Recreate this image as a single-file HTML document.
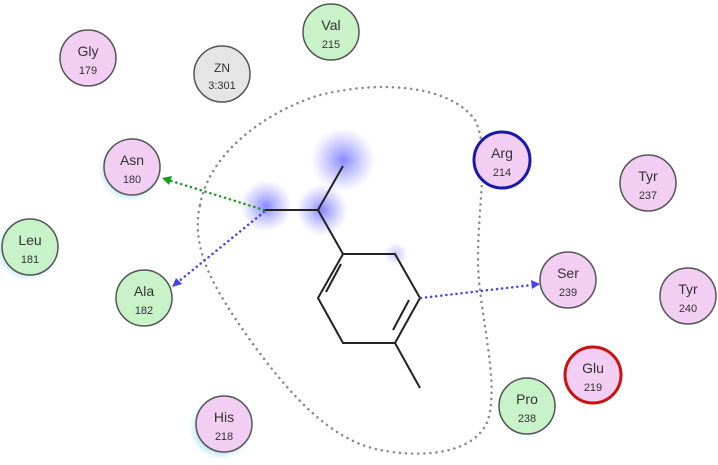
<!DOCTYPE html>
<html><head><style>body{margin:0;background:#fff}</style></head><body>
<svg width="718" height="460" viewBox="0 0 718 460" xmlns="http://www.w3.org/2000/svg" font-family="Liberation Sans, DejaVu Sans, sans-serif">
<defs>
<radialGradient id="b"><stop offset="0" stop-color="#6a6aff" stop-opacity="0.8"/><stop offset="1" stop-color="#8888ff" stop-opacity="0"/></radialGradient>
<radialGradient id="h"><stop offset="0.7" stop-color="#9fd8f0" stop-opacity="0.8"/><stop offset="1" stop-color="#bfe6f5" stop-opacity="0"/></radialGradient>
</defs>
<circle cx="343" cy="160" r="32" fill="url(#b)"/>
<circle cx="266" cy="206" r="26" fill="url(#b)"/>
<circle cx="322" cy="210" r="26" fill="url(#b)"/>
<circle cx="396" cy="254" r="12" fill="url(#b)" opacity="0.5"/>
<path d="M200,205 C210,150 270,110 320,95 C380,80 450,85 475,120 C490,150 478,200 478,260 C478,310 500,380 488,420 C475,455 420,458 380,450 C330,440 290,395 250,340 C215,290 190,250 200,205Z" fill="none" stroke="#888" stroke-width="2.5" stroke-dasharray="0.1 6" stroke-linecap="round"/>
<g stroke="#222" stroke-width="2" fill="none">
<path d="M343,166 L318,210 L264,210 M318,210 L343,254"/>
<path d="M343,254 L395,254 L420,298 L395,343 L343,343 L318,298 Z"/>
<path d="M395,343 L420,388"/>
<path d="M341,264 L326,292 M409,300 L393,330"/>
</g>
<g stroke-width="2.5" stroke-dasharray="0.1 5" stroke-linecap="round" fill="none">
<path d="M264,210 L168,180" stroke="#1a9a1a"/>
<path d="M264,212 L178,282" stroke="#4444ee"/>
<path d="M421,298 L532,285" stroke="#4444ee"/>
</g>
<path d="M162,178 L172,176 L169,185Z" fill="#1a9a1a"/>
<path d="M172,287 L176,278 L182,284Z" fill="#4444ee"/>
<path d="M540,284 L531,280 L532,289Z" fill="#4444ee"/>
<circle cx="130" cy="170" r="32" fill="url(#h)"/>
<circle cx="27" cy="249" r="32" fill="url(#h)"/>
<circle cx="221" cy="428" r="32" fill="url(#h)"/>
<circle cx="527" cy="409" r="30" fill="url(#h)" opacity="0.6"/>
<g stroke-width="1.5" font-size="14" text-anchor="middle" fill="#333">
<g><circle cx="88" cy="58" r="28" fill="#f2cef2" stroke="#555"/><text x="88" y="56">Gly</text><text x="88" y="74" font-size="11">179</text></g>
<g><circle cx="222" cy="74" r="28" fill="#e5e5e5" stroke="#555"/><text x="222" y="72" font-size="12">ZN</text><text x="222" y="89" font-size="11">3:301</text></g>
<g><circle cx="331" cy="32" r="28" fill="#c8f2c8" stroke="#555"/><text x="331" y="30">Val</text><text x="331" y="48" font-size="11">215</text></g>
<g><circle cx="132" cy="167" r="28" fill="#f2cef2" stroke="#555"/><text x="132" y="165">Asn</text><text x="132" y="183" font-size="11">180</text></g>
<g><circle cx="30" cy="247" r="28" fill="#c8f2c8" stroke="#555"/><text x="30" y="245">Leu</text><text x="30" y="263" font-size="11">181</text></g>
<g><circle cx="144" cy="298" r="28" fill="#c8f2c8" stroke="#555"/><text x="144" y="296">Ala</text><text x="144" y="314" font-size="11">182</text></g>
<g><circle cx="224" cy="424" r="28" fill="#f2cef2" stroke="#555"/><text x="224" y="422">His</text><text x="224" y="440" font-size="11">218</text></g>
<g><circle cx="502" cy="160" r="28" fill="#f2cef2" stroke="#1a1aaa" stroke-width="3"/><text x="502" y="158">Arg</text><text x="502" y="176" font-size="11">214</text></g>
<g><circle cx="648" cy="183" r="28" fill="#f2cef2" stroke="#555"/><text x="648" y="181">Tyr</text><text x="648" y="199" font-size="11">237</text></g>
<g><circle cx="568" cy="280" r="28" fill="#f2cef2" stroke="#555"/><text x="568" y="278">Ser</text><text x="568" y="296" font-size="11">239</text></g>
<g><circle cx="688" cy="296" r="28" fill="#f2cef2" stroke="#555"/><text x="688" y="294">Tyr</text><text x="688" y="312" font-size="11">240</text></g>
<g><circle cx="593" cy="375" r="28" fill="#f2cef2" stroke="#cc1111" stroke-width="3"/><text x="593" y="373">Glu</text><text x="593" y="391" font-size="11">219</text></g>
<g><circle cx="527" cy="406" r="28" fill="#c8f2c8" stroke="#555"/><text x="527" y="404">Pro</text><text x="527" y="422" font-size="11">238</text></g>
</g>
</svg>
</body></html>
